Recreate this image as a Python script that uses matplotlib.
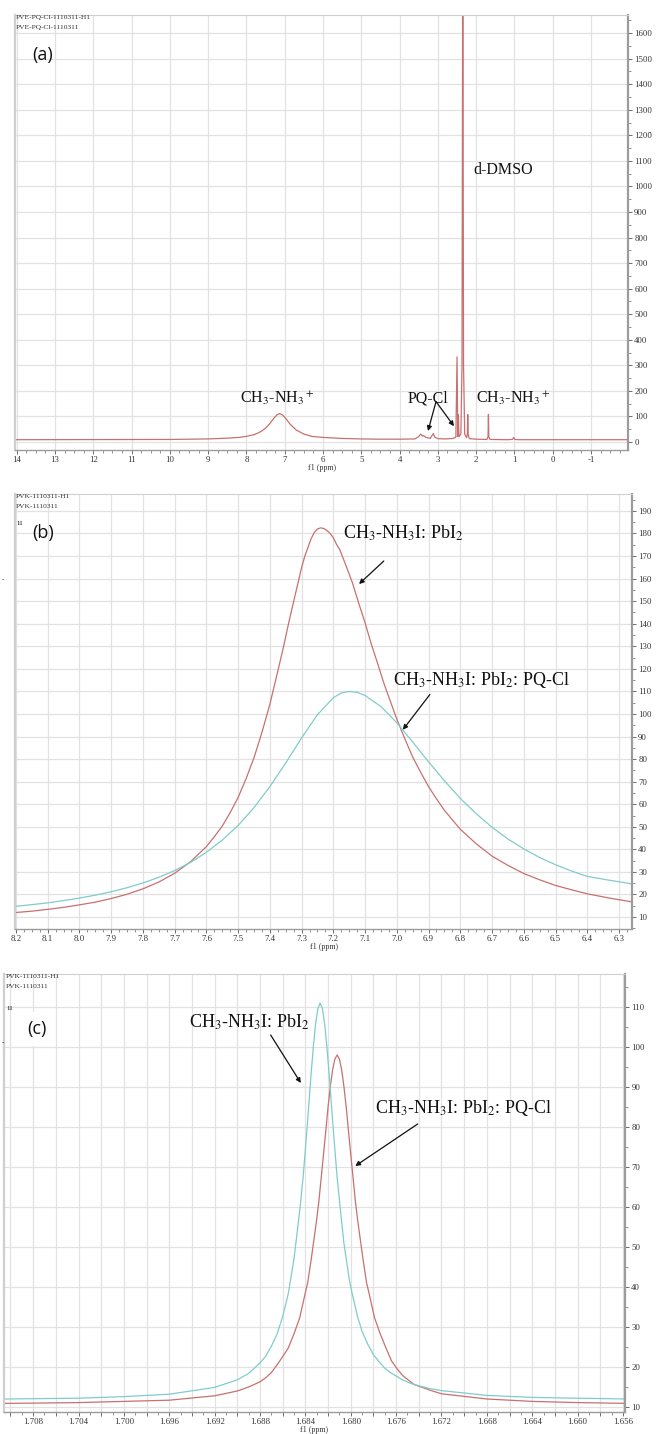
import matplotlib
matplotlib.use("Agg")
import matplotlib.pyplot as plt
from matplotlib.ticker import MultipleLocator, FuncFormatter

W, H = 656, 1434

plt.rcParams['font.family'] = ['Liberation Serif', 'DejaVu Serif']
plt.rcParams['mathtext.fontset'] = 'stix'
plt.rcParams['axes.unicode_minus'] = False

RED = '#c87070'
CYAN = '#80cccc'
GRID = '#e2e2e2'
FRAME = '#cfcfcf'
AXIS = '#9c9c9c'

# ---------------- (a) full 1H spectrum, PVE-PQ-Cl ----------------
a_ppm = [14.1, 12.0, 10.0, 9.0, 8.5, 8.2, 8.0, 7.8, 7.7, 7.6, 7.5, 7.4, 7.3, 7.2, 7.13,
         7.05, 6.95, 6.85, 6.7, 6.5, 6.3, 6.0, 5.5, 5.0, 4.5, 4.0, 3.6, 3.5, 3.45, 3.40,
         3.37, 3.32, 3.2, 3.15, 3.12, 3.08, 3.0, 2.8, 2.6, 2.53, 2.50, 2.48, 2.465, 2.45,
         2.40, 2.37, 2.35, 2.33, 2.30, 2.25, 2.23, 2.22, 2.21, 2.18, 2.0, 1.72, 1.69, 1.68,
         1.67, 1.64, 1.2, 1.05, 1.02, 0.99, 0.9, 0.0, -2.0]
a_int = [9, 9.5, 10, 12, 15, 18, 22, 29, 35, 43, 54, 70, 90, 107, 111,
         105, 88, 68, 47, 31, 22, 18, 14, 12, 11, 11, 12, 21, 31, 23,
         25, 18, 14, 26, 33, 19, 13, 12, 14, 19, 333, 21, 107, 21,
         31, 300, 2000, 300, 31, 17, 31, 107, 31, 13, 11, 10, 21, 108,
         21, 10, 9, 10, 18, 10, 9, 9, 9]

# ---------------- (b) 7.2 ppm region ----------------
b_red_ppm = [8.21, 8.15, 8.1, 8.05, 8.0, 7.95, 7.9, 7.85, 7.8, 7.75, 7.7, 7.65, 7.6, 7.575,
             7.55, 7.525, 7.5, 7.475, 7.45, 7.425, 7.4, 7.38, 7.36, 7.34, 7.32, 7.30, 7.29,
             7.27, 7.26, 7.25, 7.24, 7.23, 7.22, 7.21, 7.20, 7.19, 7.18, 7.16, 7.14, 7.12,
             7.10, 7.08, 7.06, 7.04, 7.02, 7.0, 6.975, 6.95, 6.925, 6.9, 6.875, 6.85, 6.8,
             6.75, 6.7, 6.65, 6.6, 6.55, 6.5, 6.45, 6.4, 6.33, 6.25]
b_red_int = [11.9, 12.6, 13.4, 14.3, 15.4, 16.6, 18.2, 20.1, 22.5, 25.5, 29.4, 34.5, 41.2,
             45.6, 50.3, 56.3, 63, 71.3, 80.6, 91.8, 104.3, 116, 127.9, 140.8, 152.9, 164.9,
             169.9, 177.7, 180.4, 182, 182.5, 182.2, 181.3, 180, 178.1, 175.2, 172.9, 165.7,
             158.2, 149.1, 140.4, 130.8, 122.2, 113.3, 105.5, 97.7, 89.1, 80.9, 74.2, 67.8,
             62.4, 57.3, 48.9, 42.5, 37, 32.9, 29.3, 26.5, 24, 22.1, 20.3, 18.4, 16.5]
b_cyan_ppm = [8.21, 8.15, 8.1, 8.05, 8.0, 7.95, 7.9, 7.85, 7.8, 7.75, 7.7, 7.65, 7.6, 7.55,
              7.5, 7.45, 7.4, 7.35, 7.3, 7.25, 7.2, 7.175, 7.15, 7.125, 7.1, 7.05, 7.0,
              6.95, 6.9, 6.85, 6.8, 6.75, 6.7, 6.65, 6.6, 6.55, 6.5, 6.45, 6.4, 6.33, 6.25]
b_cyan_int = [14.6, 15.5, 16.3, 17.3, 18.4, 19.7, 21.2, 23, 25.1, 27.6, 30.6, 34.2, 38.7,
              44.1, 50.6, 58.5, 67.8, 78.3, 89.4, 99.7, 107.2, 109.3, 110, 109.6, 108.2,
              103.3, 96.1, 87.6, 78.8, 70.4, 62.6, 55.8, 49.8, 44.6, 40.2, 36.4, 33.2, 30.4,
              28, 26.3, 24.5]

# ---------------- (c) 1.68 ppm region ----------------
c_cyan_ppm = [1.7105, 1.704, 1.700, 1.696, 1.692, 1.690, 1.689, 1.688, 1.6875, 1.687,
              1.6865, 1.686, 1.6855, 1.685, 1.6845, 1.6842, 1.684, 1.6838, 1.6835, 1.6833,
              1.6831, 1.6829, 1.6827, 1.6825, 1.6823, 1.6821, 1.6819, 1.6816, 1.6814,
              1.6812, 1.6809, 1.6806, 1.6804, 1.6801, 1.6799, 1.6794, 1.6790, 1.6785,
              1.6780, 1.6775, 1.6770, 1.6765, 1.6755, 1.6748, 1.674, 1.673, 1.672, 1.668,
              1.664, 1.660, 1.6555]
c_cyan_int = [12.0, 12.2, 12.6, 13.2, 14.9, 16.8, 18.4, 21.0, 22.7, 25.2,
              28.2, 32.6, 38.4, 47.1, 59.0, 67.4, 74.4, 81.6, 93.1, 100,
              105.8, 109.6, 111, 109.6, 105.8, 100, 93.1, 81.6, 74.4,
              67.4, 59.0, 50.9, 47.1, 41.4, 38.7, 32.6, 28.9, 25.7,
              23.1, 21.3, 19.7, 18.6, 16.9, 16.0, 15.3, 14.6, 14.1, 12.9,
              12.4, 12.2, 12.0]
c_red_ppm = [1.7105, 1.704, 1.700, 1.696, 1.692, 1.690, 1.689, 1.688, 1.6875, 1.687,
             1.6865, 1.686, 1.6855, 1.685, 1.6845, 1.684, 1.6838, 1.6835, 1.683, 1.6828,
             1.6825, 1.6822, 1.682, 1.6818, 1.6816, 1.6814, 1.6812, 1.6810, 1.6808,
             1.6806, 1.6804, 1.6802, 1.6799, 1.6796, 1.6794, 1.6789, 1.6786, 1.6784,
             1.6779, 1.6774, 1.6769, 1.6764, 1.6759, 1.6754, 1.6744, 1.673, 1.672, 1.668,
             1.664, 1.660, 1.6555]
c_red_int = [10.9, 11.1, 11.4, 11.7, 12.8, 14.0, 15.0, 16.3, 17.3, 18.6,
             20.5, 22.6, 24.8, 28.3, 32.3, 38.6, 41.0, 46.6, 56.9, 61.7,
             70.3, 79.0, 85.0, 90.1, 94.3, 97.0, 98, 97.0, 94.3,
             90.1, 85.0, 79.0, 70.3, 61.7, 56.9, 46.6, 41.0, 38.6,
             32.3, 28.3, 24.8, 21.5, 19.5, 17.8, 15.6, 14.2, 13.3, 12.0,
             11.4, 11.1, 10.9]

fig = plt.figure(figsize=(W / 100, H / 100), dpi=100)


def panel(l, t, r, b, xlim, ylim, xmaj, xmin, ymaj, ymin, xfmt, yfmt, xlab_every=1):
    ax = fig.add_axes([l / W, 1 - b / H, (r - l) / W, (b - t) / H])
    ax.set_xlim(*xlim)
    ax.set_ylim(*ylim)
    ax.yaxis.tick_right()
    ax.xaxis.set_major_locator(MultipleLocator(xmaj))
    ax.xaxis.set_minor_locator(MultipleLocator(xmin))
    ax.yaxis.set_major_locator(MultipleLocator(ymaj))
    ax.yaxis.set_minor_locator(MultipleLocator(ymin))

    def fx(v, pos):
        k = int(round(v / xmaj))
        if k % xlab_every:
            return ''
        return xfmt.format(v + 0.0)

    ax.xaxis.set_major_formatter(FuncFormatter(fx))
    ax.yaxis.set_major_formatter(FuncFormatter(lambda v, p: yfmt.format(v)))
    ax.grid(True, which='major', color=GRID, lw=0.9)
    ax.set_axisbelow(True)
    ax.tick_params(axis='both', which='major', length=3, width=0.6, color='#555555',
                   labelsize=6.3, labelcolor='#333333', pad=1.5)
    ax.tick_params(axis='both', which='minor', length=1.8, width=0.5, color='#666666')
    ax.tick_params(axis='y', which='both', left=False, right=True)
    ax.spines['left'].set_color(FRAME)
    ax.spines['left'].set_linewidth(1.6)
    ax.spines['top'].set_color(FRAME)
    ax.spines['top'].set_linewidth(0.8)
    ax.spines['right'].set_color(AXIS)
    ax.spines['right'].set_linewidth(1.6)
    ax.spines['bottom'].set_color(AXIS)
    ax.spines['bottom'].set_linewidth(1.0)
    ax.set_xlabel('f1 (ppm)', fontsize=5.8, labelpad=0, color='#333333')
    return ax


def header(x, y, lines):
    for i, s in enumerate(lines):
        fig.text(x / W, 1 - (y + 9 * i) / H, s, fontsize=5.4, color='#333333',
                 va='center', ha='left')


lab_kw = dict(fontsize=11.5, color='#111111', family='Liberation Serif')
arr_kw = dict(arrowstyle='-|>', color='#111111', lw=0.9, mutation_scale=7,
              shrinkA=0, shrinkB=0)

# ---- (a) ----
axa = panel(15, 15, 628, 450, (14.044, -1.965), (-31.3, 1670.6), 1, 0.25, 100, 50,
            '{:.0f}', '{:.0f}')
axa.plot(a_ppm, a_int, color=RED, lw=0.9)
axa.text(7.2, 172, r'CH$_3$-NH$_3$$^+$', ha='center', va='center', **lab_kw)
axa.text(3.26, 172, 'PQ-Cl', ha='center', va='center', **lab_kw)
axa.text(1.04, 172, r'CH$_3$-NH$_3$$^+$', ha='center', va='center', **lab_kw)
axa.text(2.08, 1064, 'd-DMSO', ha='left', va='center', **lab_kw)
axa.annotate('', xy=(3.258, 43), xytext=(3.049, 158), arrowprops=arr_kw)
axa.annotate('', xy=(2.579, 62), xytext=(3.049, 158), arrowprops=arr_kw)
header(16, 18, ['PVE-PQ-Cl-1110311-H1', 'PVE-PQ-Cl-1110311'])
fig.text(43 / W, 1 - 55 / H, '(a)', fontsize=13, family='Open Sans', va='center',
         ha='center', color='#111111')
fig.text(650 / W, 1 - 133 / H, '-', fontsize=5, va='center', ha='center')

# ---- (b) ----
axb = panel(15, 494, 632, 929, (8.203, 6.259), (4.7, 197.5), 0.1, 0.025, 10, 5,
            '{:.1f}', '{:.0f}')
axb.plot(b_red_ppm, b_red_int, color=RED, lw=0.9)
axb.plot(b_cyan_ppm, b_cyan_int, color=CYAN, lw=0.9)
lab_b = dict(lab_kw, fontsize=13)
axb.text(7.170, 180, r'CH$_3$-NH$_3$I: PbI$_2$', ha='left', va='center', **lab_b)
axb.annotate('', xy=(7.119, 157.6), xytext=(7.041, 167.8), arrowprops=arr_kw)
axb.text(7.012, 115, r'CH$_3$-NH$_3$I: PbI$_2$: PQ-Cl', ha='left', va='center', **lab_b)
axb.annotate('', xy=(6.981, 93), xytext=(6.896, 108.6), arrowprops=arr_kw)
header(16, 497, ['PVK-1110311-H1', 'PVK-1110311'])
fig.text(20 / W, 1 - 524 / H, '11', fontsize=5, va='center', ha='center')
fig.text(43 / W, 1 - 533 / H, '(b)', fontsize=13, family='Open Sans', va='center',
         ha='center', color='#111111')
fig.text(3 / W, 1 - 580 / H, '-', fontsize=5, va='center', ha='center')

# ---- (c) ----
axc = panel(4, 974, 625, 1412, (1.71057, 1.65582), (8.75, 118.25), 0.002, 0.001, 10, 5,
            '{:.3f}', '{:.0f}', xlab_every=2)
axc.plot(c_red_ppm, c_red_int, color=RED, lw=0.9)
axc.plot(c_cyan_ppm, c_cyan_int, color=CYAN, lw=0.9)
axc.text(1.69425, 106.25, r'CH$_3$-NH$_3$I: PbI$_2$', ha='left', va='center', **lab_b)
axc.annotate('', xy=(1.68440, 91), xytext=(1.68706, 103), arrowprops=arr_kw)
axc.text(1.67783, 84.75, r'CH$_3$-NH$_3$I: PbI$_2$: PQ-Cl', ha='left', va='center', **lab_b)
axc.annotate('', xy=(1.67960, 70.25), xytext=(1.67410, 80.75), arrowprops=arr_kw)
header(6, 977, ['PVK-1110311-H1', 'PVK-1110311'])
fig.text(10 / W, 1 - 1008 / H, '11', fontsize=5, va='center', ha='center')
fig.text(37 / W, 1 - 1029 / H, '(c)', fontsize=13, family='Open Sans', va='center',
         ha='center', color='#111111',
         bbox=dict(boxstyle='square,pad=0.45', fc='white', ec='none'))
fig.text(3 / W, 1 - 1043 / H, '-', fontsize=5, va='center', ha='center')

fig.savefig('out.png', dpi=100)
